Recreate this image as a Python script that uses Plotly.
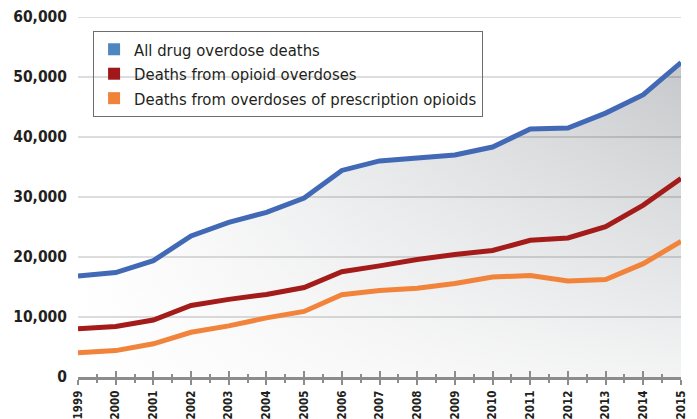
import plotly.graph_objects as go

# ---- data ----
years = list(range(1999, 2016))
all_drug = [16849, 17415, 19394, 23518, 25785, 27424, 29813, 34425, 36010,
            36450, 37004, 38329, 41340, 41502, 43982, 47055, 52404]
opioid = [8050, 8407, 9496, 11920, 12940, 13756, 14918, 17545, 18516,
          19582, 20422, 21089, 22784, 23166, 25052, 28647, 33091]
prescription = [4030, 4400, 5528, 7456, 8517, 9857, 10928, 13723, 14408,
                14800, 15597, 16651, 16917, 16007, 16235, 18893, 22598]
series_names = ["All drug overdose deaths",
                "Deaths from opioid overdoses",
                "Deaths from overdoses of prescription opioids"]
y_ticks = [0, 10000, 20000, 30000, 40000, 50000, 60000]
y_ticktext = ["0", "10,000", "20,000", "30,000", "40,000", "50,000", "60,000"]

line_colors = ["#4269b6", "#a31c1a", "#f1843a"]
legend_colors = ["#4e86bf", "#a0181a", "#ef833a"]
text_color = "#231f20"
font_family = "DejaVu Sans Condensed"

fig = go.Figure()

# gradient fill under the total line (horizontal grey ramp)
fig.add_trace(go.Scatter(
    x=years, y=all_drug, mode="lines", line=dict(width=0),
    fill="tozeroy",
    fillgradient=dict(type="horizontal",
                      colorscale=[[0, "#ffffff"], [0.45, "#e3e4e6"], [1, "#c6c8cb"]]),
    showlegend=False, hoverinfo="skip"))
# white vertical overlay so the bottom fades out
fig.add_trace(go.Scatter(
    x=years, y=all_drug, mode="lines", line=dict(width=0),
    fill="tozeroy",
    fillgradient=dict(type="vertical", start=0, stop=max(all_drug),
                      colorscale=[[0, "rgba(255,255,255,0.8)"],
                                  [1, "rgba(255,255,255,0)"]]),
    showlegend=False, hoverinfo="skip"))

# grid lines drawn above the fill
for t in y_ticks[1:]:
    fig.add_trace(go.Scatter(
        x=[years[0], years[-1]], y=[t, t], mode="lines",
        line=dict(color="rgba(0,0,0,0.18)", width=1.5),
        showlegend=False, hoverinfo="skip"))

# data lines
for vals, col, name in zip([prescription, opioid, all_drug],
                           line_colors[::-1], series_names[::-1]):
    fig.add_trace(go.Scatter(
        x=years, y=vals, mode="lines", name=name,
        line=dict(color=col, width=5), showlegend=False))

# legend entries (square swatches)
for col, name in zip(legend_colors, series_names):
    fig.add_trace(go.Scatter(
        x=[None], y=[None], mode="markers", name=name,
        marker=dict(symbol="square", size=13, color=col)))

# overlay axis for the upward half of the tick marks
fig.add_trace(go.Scatter(x=[years[0]], y=[0], xaxis="x2", mode="markers",
                         marker=dict(size=0, opacity=0), showlegend=False,
                         hoverinfo="skip"))

axis_grey = "#8c8c8c"
fig.update_layout(
    width=697, height=419,
    margin=dict(l=78, r=16, t=17, b=42),
    paper_bgcolor="white", plot_bgcolor="rgba(0,0,0,0)",
    font=dict(family=font_family, color=text_color),
    xaxis=dict(range=[years[0], years[-1]], tickvals=years,
               ticktext=[str(y) for y in years], tickangle=-90,
               tickfont=dict(size=11.5, family=font_family, weight="bold", color=text_color),
               showgrid=False, zeroline=False, automargin=False,
               showline=True, linecolor=axis_grey, linewidth=3,
               ticks="outside", ticklen=5, tickwidth=2, tickcolor=axis_grey,
               ticklabelstandoff=1,
               minor=dict(ticks="outside", dtick=0.5, tick0=years[0], ticklen=3,
                          tickwidth=2, tickcolor=axis_grey),
               fixedrange=True),
    xaxis2=dict(overlaying="x", range=[years[0], years[-1]], side="bottom",
                anchor="y", tickvals=years, showticklabels=False, automargin=False,
                showgrid=False, zeroline=False, showline=False,
                ticks="inside", ticklen=6, tickwidth=2, tickcolor=axis_grey,
                minor=dict(ticks="inside", dtick=0.5, tick0=years[0], ticklen=3,
                           tickwidth=2, tickcolor=axis_grey)),
    yaxis=dict(range=[0, 60000], tickvals=y_ticks, ticktext=y_ticktext,
               tickfont=dict(size=15.5, family=font_family, weight="bold", color=text_color),
               showgrid=False, zeroline=False, showline=False, ticks="",
               automargin=False, ticklabelstandoff=10, fixedrange=True),
    legend=dict(x=0.025, y=0.961, xanchor="left", yanchor="top",
                bgcolor="rgba(255,255,255,0)", bordercolor="#6d6d6d", borderwidth=1,
                font=dict(size=16.5, family=font_family, color=text_color),
                itemsizing="constant", tracegroupgap=0),
)

fig.write_html("out.html")
